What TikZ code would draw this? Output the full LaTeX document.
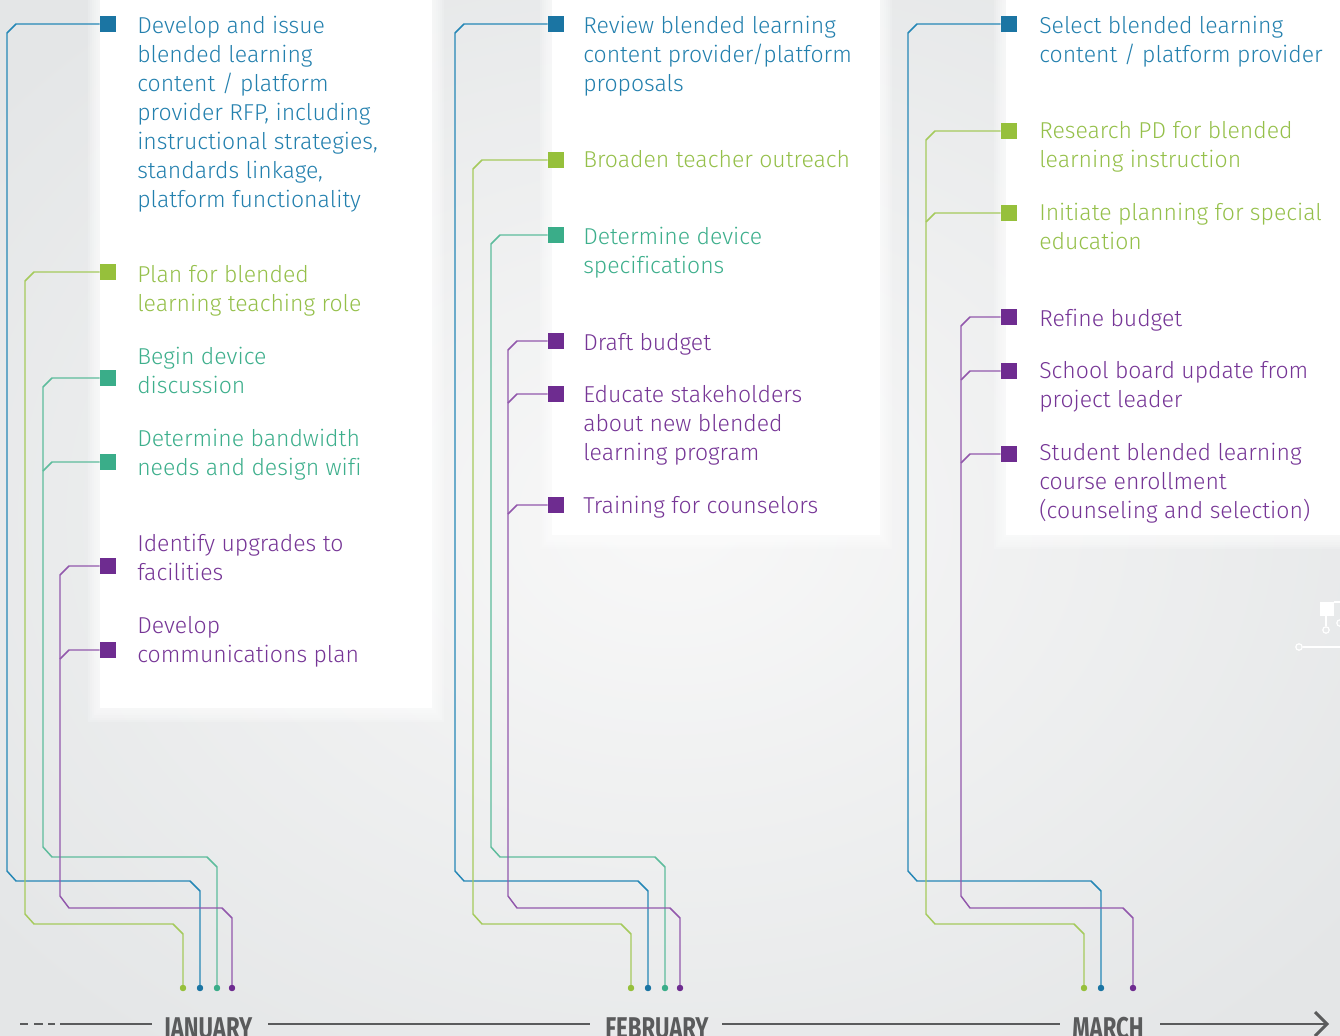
\documentclass[tikz,border=0pt]{standalone}
\usepackage{fontspec}
\setmainfont{Fira Sans}[UprightFont={* Light}, Ligatures=NoCommon]
\newfontfamily\monthfont{Fira Sans}
\definecolor{cB}{HTML}{1B75A3}
\definecolor{cBt}{HTML}{2380AE}
\definecolor{cBl}{HTML}{2587B6}
\definecolor{cL}{HTML}{96C03B}
\definecolor{cLt}{HTML}{95C04A}
\definecolor{cLl}{HTML}{A5CA5C}
\definecolor{cT}{HTML}{3AAD89}
\definecolor{cTt}{HTML}{3DAF8C}
\definecolor{cTl}{HTML}{5DBC9C}
\definecolor{cP}{HTML}{6E2C90}
\definecolor{cPt}{HTML}{763596}
\definecolor{cPl}{HTML}{9258AC}
\definecolor{cG}{HTML}{5A5B5C}
\definecolor{bgIn}{HTML}{F8F8F8}
\definecolor{bgOut}{HTML}{E4E6E7}
\tikzset{
  sq/.style={rectangle, minimum size=12pt, inner sep=0pt, draw=none},
  dotnode/.style={circle, minimum size=4.5pt, inner sep=0pt, draw=none},
  item/.style={anchor=north west, inner sep=0pt, align=left, font=\fontsize{17.25}{21.75}\selectfont},
  ln/.style={line width=1.1pt, line join=miter},
  month/.style={anchor=base, inner sep=0pt, text=cG, font=\monthfont\fontsize{22.5}{24}\selectfont\bfseries},
  tl/.style={line width=2.2pt, draw=cG},
  panelsoft/.style={fill=white, opacity=0.17},
  deco/.style={draw=white, line width=0.9pt}
}
\begin{document}
\begin{tikzpicture}[x=0.75pt,y=-0.75pt]
\useasboundingbox (0,0) rectangle (1340,1036);
% background
\shade[inner color=bgIn, outer color=bgOut] (-200,-150) rectangle (1540,1186);
% soft white panels
\foreach \i in {1,...,6}{
  \fill[panelsoft] ({100-2*\i},-5) rectangle ({432+2*\i},{708+2.4*\i});
  \fill[panelsoft] ({552-2*\i},-5) rectangle ({880+2*\i},{535+2.4*\i});
  \fill[panelsoft] ({1006-2*\i},-5) rectangle (1345,{535+2.4*\i});
}
\fill[white] (100,-5) rectangle (432,708);
\fill[white] (552,-5) rectangle (880,535);
\fill[white] (1006,-5) rectangle (1345,535);
% decoration at right edge
\draw[deco] (1334,602) -- (1345,602);
\draw[deco] (1326,616) -- (1326,626);
\draw[deco] (1326,630) circle (3.2);
\draw[deco] (1340,623) circle (3.2);
\draw[deco] (1299,647) circle (3.2);
\draw[deco] (1302.5,647) -- (1345,647);
\fill[white] (1320,602) rectangle (1334,616);

% ---------------- squares ----------------
% January
\node[sq, fill=cB] (sJ1) at (108,24) {};
\node[sq, fill=cL] (sJ2) at (108,272) {};
\node[sq, fill=cT] (sJ3) at (108,378) {};
\node[sq, fill=cT] (sJ4) at (108,462) {};
\node[sq, fill=cP] (sJ5) at (108,566) {};
\node[sq, fill=cP] (sJ6) at (108,650) {};
% February
\node[sq, fill=cB] (sF1) at (556,24) {};
\node[sq, fill=cL] (sF2) at (556,160) {};
\node[sq, fill=cT] (sF3) at (556,235) {};
\node[sq, fill=cP] (sF4) at (556,341) {};
\node[sq, fill=cP] (sF5) at (556,394) {};
\node[sq, fill=cP] (sF6) at (556,505) {};
% March
\node[sq, fill=cB] (sM1) at (1009,24) {};
\node[sq, fill=cL] (sM2) at (1009,131) {};
\node[sq, fill=cL] (sM3) at (1009,213) {};
\node[sq, fill=cP] (sM4) at (1009,317) {};
\node[sq, fill=cP] (sM5) at (1009,371) {};
\node[sq, fill=cP] (sM6) at (1009,454) {};

% ---------------- end dots ----------------
\node[dotnode, fill=cL] (dJL) at (183,988) {};
\node[dotnode, fill=cB] (dJB) at (200,988) {};
\node[dotnode, fill=cT] (dJT) at (217,988) {};
\node[dotnode, fill=cP] (dJP) at (232,988) {};
\node[dotnode, fill=cL] (dFL) at (631,988) {};
\node[dotnode, fill=cB] (dFB) at (648,988) {};
\node[dotnode, fill=cT] (dFT) at (665,988) {};
\node[dotnode, fill=cP] (dFP) at (680,988) {};
\node[dotnode, fill=cL] (dML) at (1084,988) {};
\node[dotnode, fill=cB] (dMB) at (1101,988) {};
\node[dotnode, fill=cP] (dMP) at (1133,988) {};

% ---------------- connectors ----------------
% January
\draw[ln, cBl] (sJ1.west) -- (16,24) -- (7,33) -- (7,871) -- (16,881) -- (190,881) -- (200,891) -- (dJB.center);
\draw[ln, cLl] (sJ2.west) -- (34,272) -- (25,281) -- (25,914) -- (34,924) -- (173,924) -- (183,934) -- (dJL.center);
\draw[ln, cTl] (sJ3.west) -- (52,378) -- (43,387) -- (43,847) -- (52,857) -- (207,857) -- (217,867) -- (dJT.center);
\coordinate (jJ4) at (43,471);
\draw[ln, cTl] (sJ4.west) -- (52,462) -- (jJ4);
\draw[ln, cPl] (sJ5.west) -- (69,566) -- (60,575) -- (60,896) -- (69,908) -- (222,908) -- (232,918) -- (dJP.center);
\coordinate (jJ6) at (60,659);
\draw[ln, cPl] (sJ6.west) -- (69,650) -- (jJ6);
% February
\draw[ln, cBl] (sF1.west) -- (464,24) -- (455,33) -- (455,871) -- (464,881) -- (638,881) -- (648,891) -- (dFB.center);
\draw[ln, cLl] (sF2.west) -- (482,160) -- (473,169) -- (473,914) -- (482,924) -- (621,924) -- (631,934) -- (dFL.center);
\draw[ln, cTl] (sF3.west) -- (500,235) -- (491,244) -- (491,847) -- (500,857) -- (655,857) -- (665,867) -- (dFT.center);
\draw[ln, cPl] (sF4.west) -- (517,341) -- (508,350) -- (508,896) -- (517,908) -- (670,908) -- (680,918) -- (dFP.center);
\coordinate (jF5) at (508,403);
\coordinate (jF6) at (508,514);
\draw[ln, cPl] (sF5.west) -- (517,394) -- (jF5);
\draw[ln, cPl] (sF6.west) -- (517,505) -- (jF6);
% March
\draw[ln, cBl] (sM1.west) -- (917,24) -- (908,33) -- (908,871) -- (917,881) -- (1091,881) -- (1101,891) -- (dMB.center);
\draw[ln, cLl] (sM2.west) -- (935,131) -- (926,140) -- (926,914) -- (935,924) -- (1074,924) -- (1084,934) -- (dML.center);
\coordinate (jM3) at (926,222);
\draw[ln, cLl] (sM3.west) -- (935,213) -- (jM3);
\draw[ln, cPl] (sM4.west) -- (970,317) -- (961,326) -- (961,896) -- (970,908) -- (1123,908) -- (1133,918) -- (dMP.center);
\coordinate (jM5) at (961,380);
\coordinate (jM6) at (961,463);
\draw[ln, cPl] (sM5.west) -- (970,371) -- (jM5);
\draw[ln, cPl] (sM6.west) -- (970,454) -- (jM6);
% redraw squares and dots on top
\foreach \n/\c in {sJ1/cB,sJ2/cL,sJ3/cT,sJ4/cT,sJ5/cP,sJ6/cP,sF1/cB,sF2/cL,sF3/cT,sF4/cP,sF5/cP,sF6/cP,sM1/cB,sM2/cL,sM3/cL,sM4/cP,sM5/cP,sM6/cP}{
  \fill[\c] (\n.south west) rectangle (\n.north east);
}
\foreach \n/\c in {dJL/cL,dJB/cB,dJT/cT,dJP/cP,dFL/cL,dFB/cB,dFT/cT,dFP/cP,dML/cL,dMB/cB,dMP/cP}{
  \fill[\c] (\n.center) circle (3.2);
}

% ---------------- texts ----------------
\node[item, text=cBt] (tJ1) at (137,12.7) {\strut Develop and issue\\blended learning\\content / platform\\provider RFP, including\\instructional strategies,\\standards linkage,\\platform functionality};
\node[item, text=cLt] (tJ2) at (137,261.7) {\strut Plan for blended\\learning teaching role};
\node[item, text=cTt] (tJ3) at (137,343.7) {\strut Begin device\\discussion};
\node[item, text=cTt] (tJ4) at (137,425.7) {\strut Determine bandwidth\\needs and design wifi};
\node[item, text=cPt] (tJ5) at (137,530.7) {\strut Identify upgrades to\\facilities};
\node[item, text=cPt] (tJ6) at (137,612.7) {\strut Develop\\communications plan};

\node[item, text=cBt] (tF1) at (583,12.7) {\strut Review blended learning\\content provider/platform\\proposals};
\node[item, text=cLt] (tF2) at (583,146.7) {\strut Broaden teacher outreach};
\node[item, text=cTt] (tF3) at (583,223.7) {\strut Determine device\\specifications};
\node[item, text=cPt] (tF4) at (583,329.7) {\strut Draft budget};
\node[item, text=cPt] (tF5) at (583,381.7) {\strut Educate stakeholders\\about new blended\\learning program};
\node[item, text=cPt] (tF6) at (583,492.7) {\strut Training for counselors};

\node[item, text=cBt] (tM1) at (1039,12.7) {\strut Select blended learning\\content / platform provider};
\node[item, text=cLt] (tM2) at (1039,117.7) {\strut Research PD for blended\\learning instruction};
\node[item, text=cLt] (tM3) at (1039,199.7) {\strut Initiate planning for special\\education};
\node[item, text=cPt] (tM4) at (1039,305.7) {\strut Refine budget};
\node[item, text=cPt] (tM5) at (1039,357.7) {\strut School board update from\\project leader};
\node[item, text=cPt] (tM6) at (1039,439.7) {\strut Student blended learning\\course enrollment\\(counseling and selection)};

% ---------------- timeline ----------------
\node[month] (mJ) at (208,1038) {\scalebox{0.74}[1]{JANUARY}};
\node[month] (mF) at (657,1038) {\scalebox{0.74}[1]{FEBRUARY}};
\node[month] (mM) at (1108,1038) {\scalebox{0.74}[1]{MARCH}};
\coordinate (tStart) at (20,1024);
\coordinate (tEnd) at (1327,1024);
\draw[tl] (tStart) -- (28,1024);
\draw[tl] (34,1024) -- (43,1024);
\draw[tl] (48,1024) -- (55,1024);
\draw[tl] (60,1024) -- (152,1024);
\draw[tl] (268,1024) -- (590,1024);
\draw[tl] (722,1024) -- (1060,1024);
\draw[tl] (1160,1024) -- (tEnd);
\draw[tl, line join=miter] (1315,1012) -- (tEnd) -- (1315,1036);
\end{tikzpicture}
\end{document}
